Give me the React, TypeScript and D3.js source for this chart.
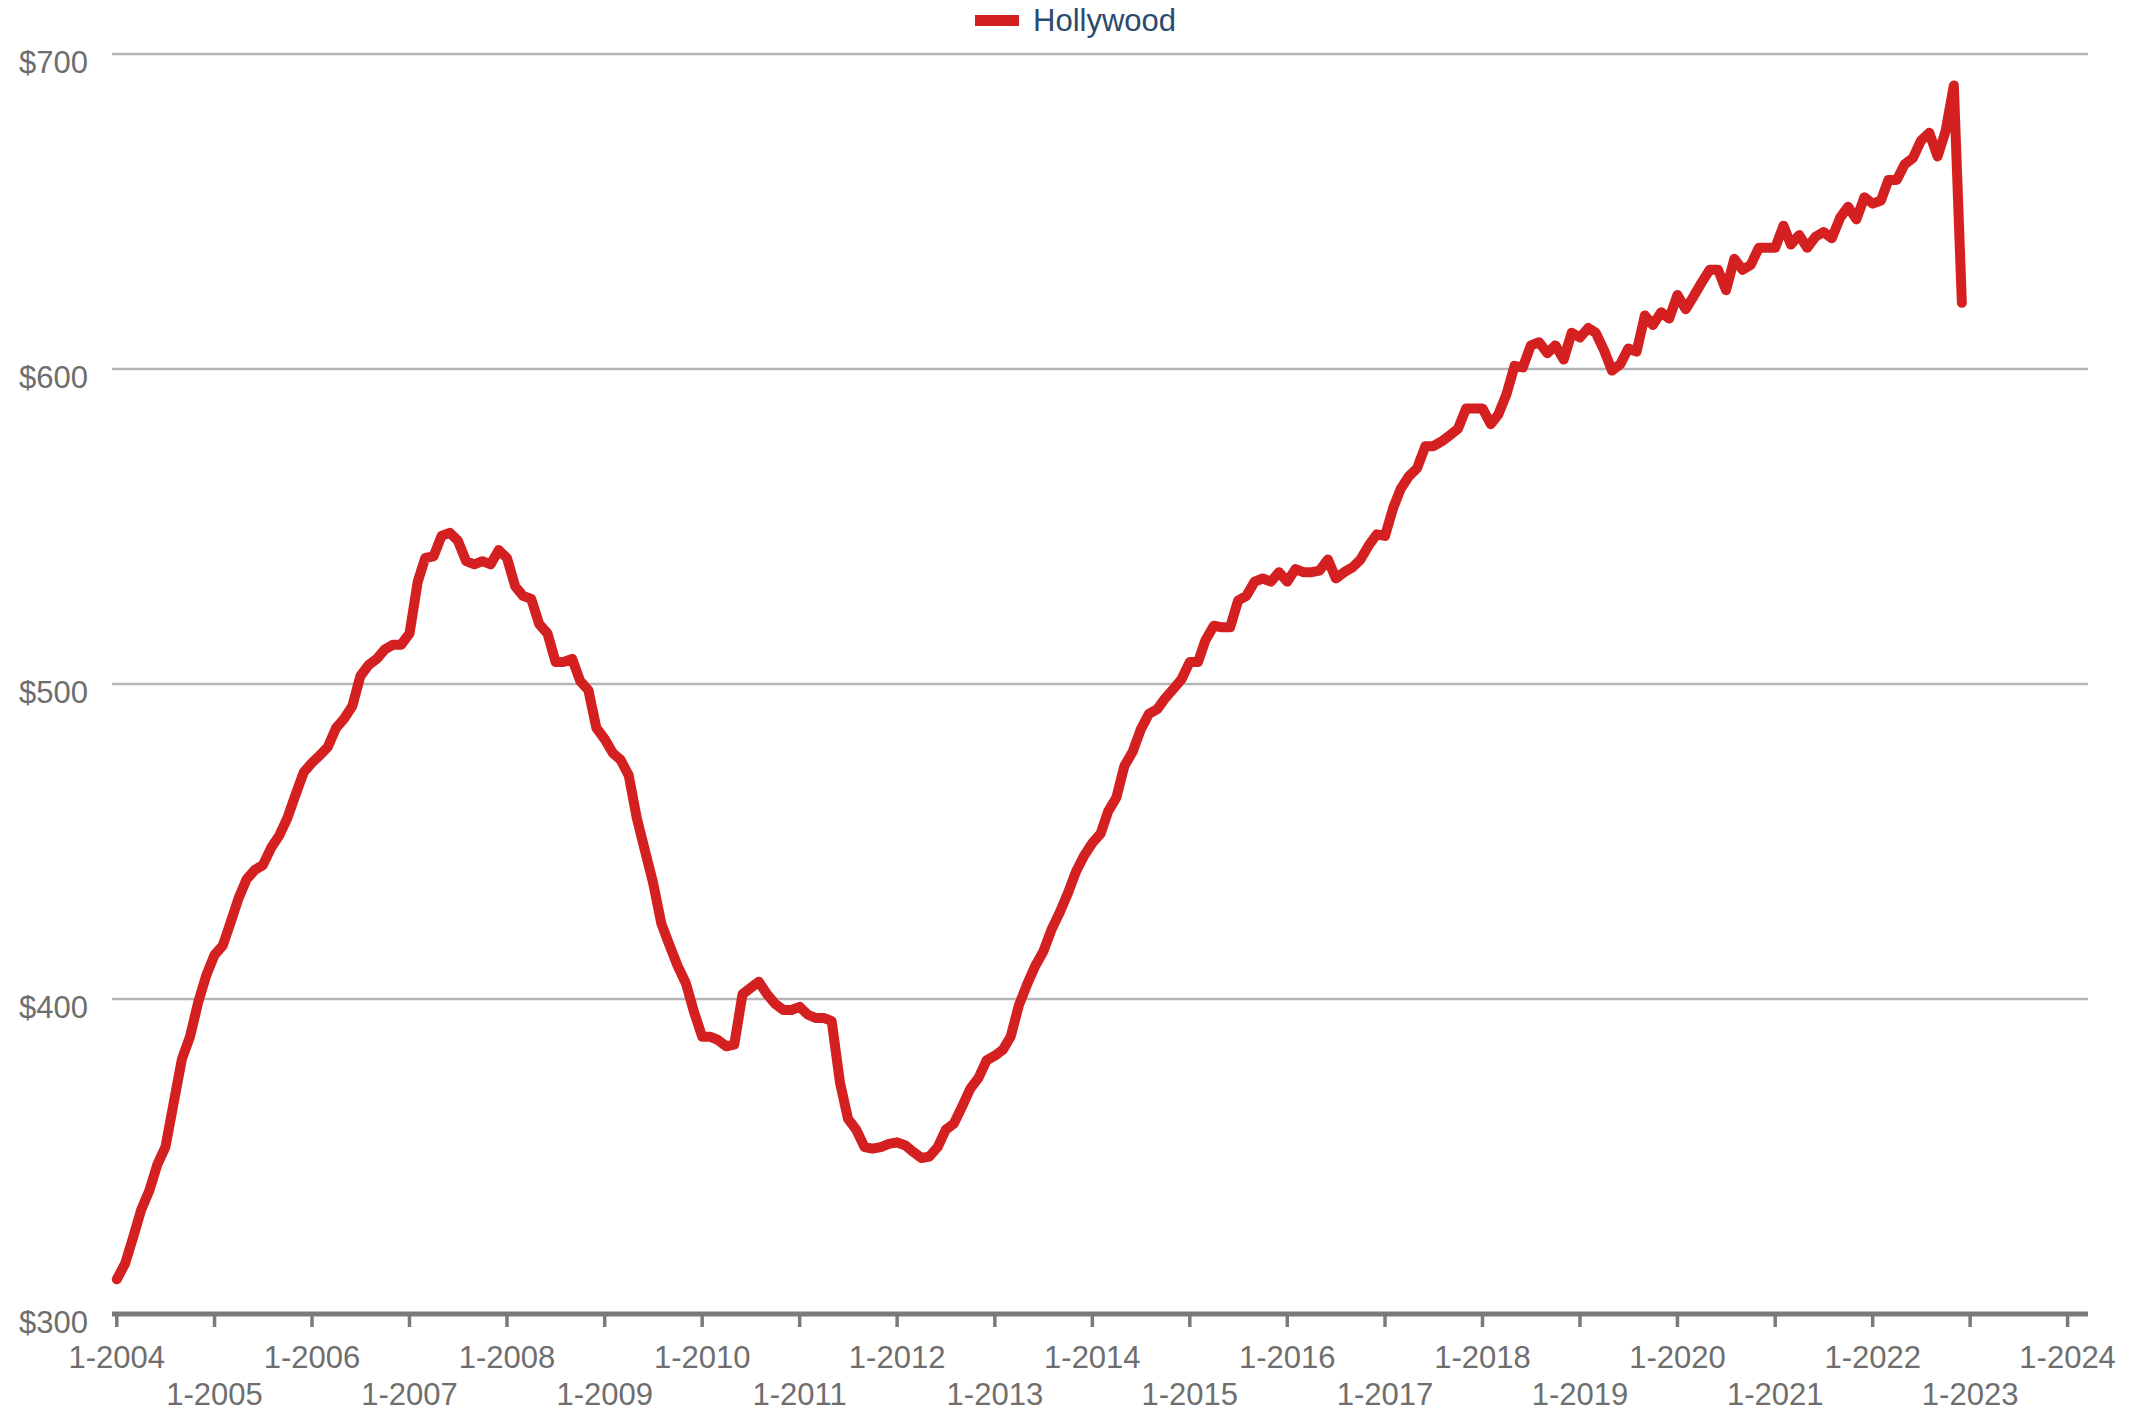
import * as d3 from 'd3';

// monthly average, Jan 2004 .. Dec 2022
const START_YEAR = 2004;
const rent2004 = [311, 316, 324, 333, 339, 347.5, 353, 367, 381, 388, 399, 407.5];
const rent2005 = [414, 417, 424, 432, 438, 441, 442.5, 448, 452, 457.5, 465, 472];
const rent2006 = [475, 477.5, 480, 486, 489, 493, 502.5, 506, 508, 511, 512.5, 512.5];
const rent2007 = [516, 532.5, 540, 540.5, 547, 548, 545.5, 539, 538, 539, 538, 542.5];
const rent2008 = [540, 531, 528, 527, 519, 516, 507, 507, 508, 501, 498, 486];
const rent2009 = [482.5, 478, 476, 471, 457.5, 447, 437, 424, 417, 410.5, 405, 396];
const rent2010 = [388, 388, 387, 385, 385.5, 401.5, 403.5, 405.5, 401.5, 398.5, 396.5, 396.5];
const rent2011 = [397.5, 395, 394, 394, 393, 373.5, 362, 358.5, 353, 352.5, 353, 354];
const rent2012 = [354.5, 353.5, 351.5, 349.5, 350, 353, 358.5, 360.5, 366, 371.5, 375, 380.5];
const rent2013 = [382, 384, 388, 398, 404.5, 410.5, 415, 422, 427.5, 433.5, 440.5, 445.5];
const rent2014 = [449.5, 452.5, 459.5, 464, 474, 478.5, 485.5, 490.5, 492, 495.5, 498.5, 501.5];
const rent2015 = [507, 507, 514, 518.5, 518, 518, 526.5, 528, 532.5, 533.5, 532.5, 535.5];
const rent2016 = [532.5, 536.5, 535.5, 535.5, 536, 539.5, 533.5, 535.5, 537, 539.5, 544, 547.5];
const rent2017 = [547, 556, 562, 566, 568.5, 575.5, 575.5, 577, 579, 581, 587.5, 587.5];
const rent2018 = [587.5, 582.5, 585.5, 592, 601, 600.5, 607.5, 608.5, 605, 607.5, 603, 611.5];
const rent2019 = [610, 613, 611.5, 606, 599.5, 601.5, 606.5, 605.5, 617, 614, 618, 616];
const rent2020 = [623.5, 619, 623, 627.5, 631.5, 631.5, 625, 635, 631.5, 633, 638.5, 638.5];
const rent2021 = [638.5, 645.5, 639.5, 642.5, 638.5, 642, 643.5, 641.5, 648, 651.5, 647.5, 654.5];
const rent2022 = [652.5, 653.5, 660, 660, 665, 667, 672.5, 675, 667.5, 675.5, 690, 621];

const hollywood = [
  ...rent2004, ...rent2005, ...rent2006, ...rent2007, ...rent2008,
  ...rent2009, ...rent2010, ...rent2011, ...rent2012, ...rent2013,
  ...rent2014, ...rent2015, ...rent2016, ...rent2017, ...rent2018,
  ...rent2019, ...rent2020, ...rent2021, ...rent2022,
];

const yTicks = [300, 400, 500, 600, 700];
const seriesName = 'Hollywood';

const W = 2154;
const H = 1411;
const FONT = '"Liberation Sans", Arial, sans-serif';
const RED = '#d42020';

export default function App() {
  const x = d3
    .scaleUtc()
    .domain([new Date(Date.UTC(2004, 0, 1)), new Date(Date.UTC(2024, 0, 1))])
    .range([116.8, 2067.6]);
  const y = d3.scaleLinear().domain([300, 700]).range([1314, 54]);

  const pts = hollywood.map((v, i) => ({ d: new Date(Date.UTC(START_YEAR, i, 1)), v }));
  const path =
    d3
      .line<{ d: Date; v: number }>()
      .x((p) => x(p.d))
      .y((p) => y(p.v))(pts) ?? '';

  const years = d3.utcYear.range(new Date(Date.UTC(2004, 0, 1)), new Date(Date.UTC(2024, 0, 2)));
  const left = 112;
  const right = 2088;

  return (
    <svg
      width={W}
      height={H}
      viewBox={`0 0 ${W} ${H}`}
      style={{ position: 'absolute', left: 0, top: 0, background: '#fff' }}
      fontFamily={FONT}
    >
      {yTicks
        .filter((t) => t > 300)
        .map((t) => (
          <line key={t} x1={left} x2={right} y1={y(t)} y2={y(t)} stroke="#b5b5b5" strokeWidth={2.5} />
        ))}
      {yTicks.map((t) => (
        <text key={t} x={88} y={y(t) + 8} dy="0.35em" textAnchor="end" fontSize={31} fill="#6e6e6e">
          ${t}
        </text>
      ))}

      <line x1={left} x2={right} y1={y(300)} y2={y(300)} stroke="#7a7a7a" strokeWidth={5} />
      {years.map((d, i) => (
        <g key={i} transform={`translate(${x(d)},0)`}>
          <line y1={y(300)} y2={y(300) + 13} stroke="#7a7a7a" strokeWidth={3.5} />
          <text
            y={i % 2 === 0 ? 1357 : 1394}
            dy="0.35em"
            textAnchor="middle"
            fontSize={31}
            fill="#6e6e6e"
          >
            {`1-${d.getUTCFullYear()}`}
          </text>
        </g>
      ))}

      <path d={path} fill="none" stroke={RED} strokeWidth={10} strokeLinejoin="round" strokeLinecap="round" />

      <rect x={975} y={15} width={44} height={11} fill={RED} />
      <text x={1033} y={31} fontSize={31} fill="#2b4a6e">
        {seriesName}
      </text>
    </svg>
  );
}
